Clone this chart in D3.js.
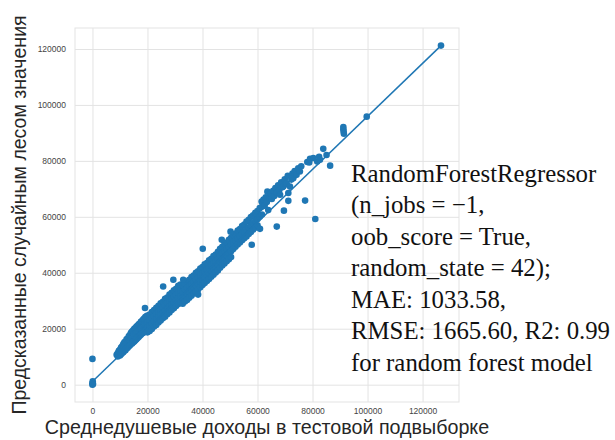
<!DOCTYPE html>
<html>
<head>
<meta charset="utf-8">
<script src="https://cdn.jsdelivr.net/npm/d3@7"></script>
<style>
  body { margin: 0; background: #fff; }
  svg { display: block; }
</style>
</head>
<body>
<svg id="chart" width="615" height="440"></svg>
<script>
'use strict';

var nearZero = [[0, 0], [0, 500], [100, 1200], [200, 200], [0, 9200]];

var lowBand = [
	[8800, 10700], [9200, 11300], [9200, 10100], [9600, 12100], [9600, 10800],
	[10000, 12500], [10000, 11200], [10000, 10400], [10400, 13300], [10400, 11800], [10400, 10900],
	[10800, 13700], [10800, 12300], [10800, 11300], [11200, 14500], [11200, 12800], [11200, 11600],
	[11600, 15100], [11600, 13300], [11600, 12100], [12000, 15400], [12000, 13800], [12000, 12300],
	[12400, 16200], [12400, 14300], [12400, 12900], [12800, 16500], [12800, 14800], [12800, 13200],
	[13200, 17300], [13200, 15300], [13200, 13700], [13600, 17700], [13600, 15800], [13600, 14000],
	[14000, 18500], [14000, 16300], [14000, 14500], [14400, 19000], [14400, 16800], [14400, 14700],
	[14800, 19400], [14800, 17200], [14800, 15200], [15200, 20000], [15200, 17600], [15200, 15400],
	[15600, 20200], [15600, 18000], [15600, 15900], [16000, 20800], [16000, 18400], [16000, 16200],
	[16400, 21000], [16400, 18800], [16400, 16700], [16800, 21600], [16800, 19200], [16800, 17000],
	[17200, 21800], [17200, 19600], [17200, 17500], [17600, 22500], [17600, 20000], [17600, 17800],
	[18000, 22700], [18000, 20400], [18000, 18300], [18400, 23300], [18400, 20800], [18400, 18500],
	[18800, 23600], [18800, 21200], [18800, 19000], [19200, 24200], [19200, 21600], [19200, 19300],
	[19600, 24400], [19600, 22000], [19600, 19700], [19100, 27400]
];

var midBand = [
	[20000, 24700], [20000, 22300], [20000, 20400], [20000, 18700],
	[20800, 25100], [20800, 23000], [20800, 21100], [20800, 19200],
	[21600, 26000], [21600, 23700], [21600, 21800], [21600, 19900],
	[22400, 26700], [22400, 24400], [22400, 22600], [22400, 20800],
	[23200, 27500], [23200, 25300], [23200, 23300], [23200, 21300],
	[24000, 28200], [24000, 26000], [24000, 24100], [24000, 22200],
	[24800, 29100], [24800, 26800], [24800, 24900], [24800, 22900],
	[25600, 29600], [25600, 27500], [25600, 25600], [25600, 23700],
	[26400, 30700], [26400, 28300], [26400, 26400], [26400, 24300],
	[27200, 31100], [27200, 29100], [27200, 27100], [27200, 25200],
	[28000, 32200], [28000, 29800], [28000, 27900], [28000, 25800],
	[28800, 32800], [28800, 30600], [28800, 28600], [28800, 26700],
	[29600, 33700], [29600, 31400], [29600, 29300], [29600, 27300],
	[30400, 34300], [30400, 32100], [30400, 30100], [30400, 28100],
	[31200, 35300], [31200, 32900], [31200, 30900], [31200, 28800],
	[32000, 35800], [32000, 33600], [32000, 31600], [32000, 29500],
	[25700, 35100], [29400, 37500]
];

var highBand = [
	[32800, 35500], [32800, 33200], [32800, 31000], [32800, 28900],
	[33600, 36000], [33600, 33900], [33600, 31700], [33600, 29700],
	[34400, 36900], [34400, 34600], [34400, 32500], [34400, 30300],
	[35200, 37500], [35200, 35300], [35200, 33200], [35200, 31100],
	[36000, 38500], [36000, 36000], [36000, 33900], [36000, 31800],
	[36800, 39000], [36800, 36800], [36800, 34700], [36800, 32600],
	[37600, 40000], [37600, 37500], [37600, 35400], [37600, 33300],
	[38400, 40500], [38400, 38200], [38400, 36100], [38400, 34000], [38400, 32200],
	[39200, 41500], [39200, 39000], [39200, 36900], [39200, 34800],
	[40000, 42000], [40000, 39700], [40000, 37600], [40000, 35600],
	[40800, 43000], [40800, 40400], [40800, 38300], [40800, 36300],
	[41600, 43500], [41600, 41200], [41600, 39100], [41600, 37100],
	[42400, 44500], [42400, 41900], [42400, 39800], [42400, 37800],
	[43200, 45000], [43200, 42700], [43200, 40600], [43200, 38600],
	[44000, 46000], [44000, 43400], [44000, 41300], [44000, 39300],
	[44800, 46500], [44800, 44200], [44800, 42000], [44800, 40100],
	[45600, 47500], [45600, 44900], [45600, 42800], [45600, 40800],
	[33000, 37500], [40100, 48600]
];

var upperBand = [
	[46400, 48600], [46400, 46200], [46400, 43900], [46400, 41800],
	[47200, 49300], [47200, 47000], [47200, 44600], [47200, 42600],
	[48000, 50300], [48000, 47700], [48000, 45400], [48000, 43300],
	[48800, 50800], [48800, 48500], [48800, 46200], [48800, 44100],
	[49600, 51800], [49600, 49200], [49600, 47000], [49600, 44800],
	[50400, 52500], [50400, 50000], [50400, 47700], [50400, 45600],
	[51200, 53400], [51200, 50800], [51200, 48500],
	[52000, 54000], [52000, 51500], [52000, 49300],
	[52800, 55100], [52800, 52300], [52800, 50100],
	[53600, 55600], [53600, 53100], [53600, 50800],
	[54400, 56700], [54400, 53900], [54400, 51600],
	[55200, 57200], [55200, 54600], [55200, 52300],
	[56000, 58300], [56000, 55400], [56000, 53000],
	[56800, 58900], [56800, 56200], [56800, 53900],
	[57600, 59900], [57600, 56900], [57600, 54600],
	[58400, 60500], [58400, 57700], [58400, 55400],
	[59200, 61400], [59200, 58500], [59200, 56100],
	[60000, 62100], [60000, 59200], [60000, 57000],
	[60800, 63100], [60800, 60000], [61600, 63600], [61600, 60800],
	[47000, 51800], [50200, 54700], [57900, 50000], [60900, 55700], [61500, 65500]
];

var topBand = [
	[62200, 66200], [62600, 64000], [63000, 67000], [63600, 69000], [63400, 65300], [63900, 62400],
	[64300, 66800], [64800, 68300], [65200, 66400], [65700, 69300], [66100, 67400], [66500, 70300],
	[67000, 56500], [67000, 68600], [67500, 71300], [67900, 69500], [68200, 67900], [68600, 72300],
	[69000, 70600], [69400, 70800], [69600, 62200], [69900, 73400], [70300, 71600], [70600, 72000],
	[71000, 74700], [71200, 68500], [71200, 65700], [71800, 70800], [72300, 73300], [72700, 75500],
	[73000, 73800], [73500, 76400], [74200, 75000], [74800, 77300], [75400, 76200], [75900, 78100],
	[77300, 65800], [78100, 79600], [78800, 79400], [79100, 80700], [80300, 81000], [81000, 59200],
	[81700, 79800], [82400, 81500], [82700, 80400], [83900, 84300], [85100, 82100], [86400, 78300]
];

var extremes = [
	[91200, 92100], [91200, 91300], [91300, 90500], [91400, 89700], [99700, 95800], [126700, 121200]
];

var fitLine = [[0, 1150], [126700, 121200]];

var xTicks = [0, 20000, 40000, 60000, 80000, 100000, 120000];
var yTicks = [0, 20000, 40000, 60000, 80000, 100000, 120000];

var xTitle = "Среднедушевые доходы в тестовой подвыборке";
var yTitle = "Предсказанные случайным лесом значения";
var noteLines = [
	"RandomForestRegressor",
	"(n_jobs = −1,",
	"oob_score = True,",
	"random_state = 42);",
	"MAE: 1033.58,",
	"RMSE: 1665.60, R2: 0.99",
	"for random forest model"
];

var points = [].concat(nearZero, lowBand, midBand, highBand, upperBand, topBand, extremes);

var svg = d3.select("#chart");
var box = { left: 75, right: 459, top: 28, bottom: 402 };
var blue = "#1f77b4";
var gridColor = "#e3e3e3";
var sans = "'Liberation Sans', Arial, sans-serif";

var x = d3.scaleLinear().domain([-6345, 133245]).range([box.left, box.right]);
var y = d3.scaleLinear().domain([-6200, 127500]).range([box.bottom, box.top]);

// grid + tick labels
var xAxis = svg.append("g")
	.attr("transform", "translate(0," + box.bottom + ")")
	.call(d3.axisBottom(x).tickValues(xTicks).tickFormat(d3.format("d"))
		.tickSize(-(box.bottom - box.top)).tickPadding(6));

var yAxis = svg.append("g")
	.attr("transform", "translate(" + box.left + ",0)")
	.call(d3.axisLeft(y).tickValues(yTicks).tickFormat(d3.format("d"))
		.tickSize(-(box.right - box.left)).tickPadding(9));

[xAxis, yAxis].forEach(function(g) {
	g.select(".domain").remove();
	g.selectAll(".tick line").attr("stroke", gridColor).attr("stroke-width", 1);
	g.selectAll(".tick text")
		.attr("fill", "#444")
		.style("font-family", sans)
		.style("font-size", "8.5px");
});

svg.append("rect")
	.attr("x", box.left).attr("y", box.top)
	.attr("width", box.right - box.left).attr("height", box.bottom - box.top)
	.attr("fill", "none").attr("stroke", gridColor).attr("stroke-width", 1);

// points
svg.append("g")
	.selectAll("circle")
	.data(points)
	.enter().append("circle")
	.attr("cx", function(d) { return x(d[0]); })
	.attr("cy", function(d) { return y(d[1]); })
	.attr("r", 3.3)
	.attr("fill", blue);

var line = d3.line()
	.x(function(d) { return x(d[0]); })
	.y(function(d) { return y(d[1]); });

svg.append("path")
	.attr("d", line(fitLine))
	.attr("fill", "none")
	.attr("stroke", blue)
	.attr("stroke-width", 1.5);

// axis titles
svg.append("text")
	.attr("x", (box.left + box.right) / 2).attr("y", 434)
	.attr("text-anchor", "middle")
	.attr("fill", "#262626")
	.style("font-family", sans)
	.style("font-size", "19.7px")
	.text(xTitle);

svg.append("text")
	.attr("transform", "translate(26," + (box.top + box.bottom) / 2 + ") rotate(-90)")
	.attr("text-anchor", "middle")
	.attr("fill", "#262626")
	.style("font-family", sans)
	.style("font-size", "19.5px")
	.text(yTitle);

// model note
svg.append("g")
	.selectAll("text")
	.data(noteLines)
	.enter().append("text")
	.attr("x", 351)
	.attr("y", function(d, i) { return 181.7 + i * 31.5; })
	.attr("fill", "#111")
	.style("font-family", "'Liberation Serif', 'Times New Roman', serif")
	.style("font-size", "24.8px")
	.text(function(d) { return d; });
</script>
</body>
</html>
